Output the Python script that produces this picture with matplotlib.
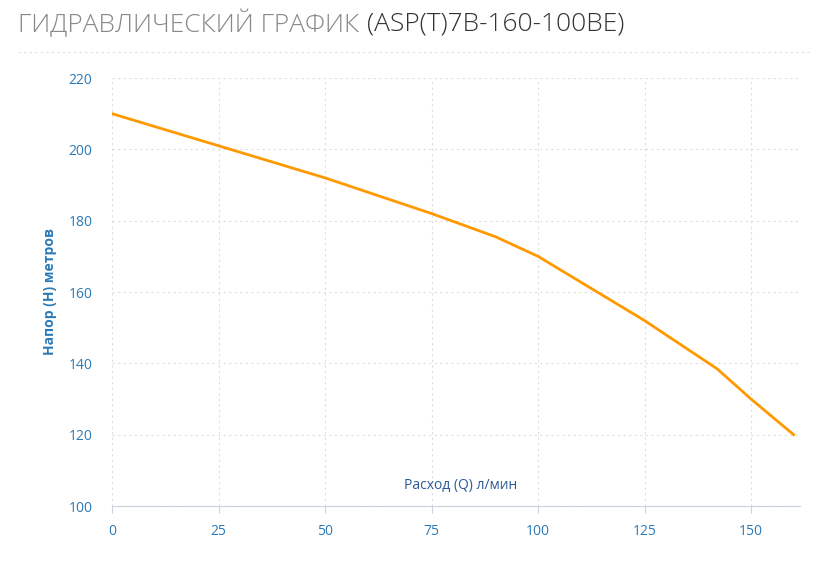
import matplotlib
matplotlib.use("Agg")
import matplotlib.pyplot as plt

# flow (l/min) vs head (m)
flow = [0, 25, 50, 75, 90, 100, 125, 142, 150, 160]
head = [210, 201, 192, 182, 175.5, 170, 152, 138.5, 130, 120]
xticks = [0, 25, 50, 75, 100, 125, 150]
yticks = [100, 120, 140, 160, 180, 200, 220]

plt.rcParams['font.family'] = ['Open Sans', 'DejaVu Sans']
tick_col = '#2a7ab8'

fig = plt.figure(figsize=(8.2, 5.8), dpi=100)
ax = fig.add_axes([112/820, 74/580, 688/820, 428/580])
ax.plot(flow, head, color='#ff9900', lw=2)
ax.set_xlim(0, 161.5)
ax.set_ylim(100, 220)
ax.set_xticks(xticks)
ax.set_yticks(yticks)
ax.grid(True, color='#dddddd', ls=(0, (2, 3)), lw=0.8)
for s in ['top', 'right', 'left']:
    ax.spines[s].set_visible(False)
ax.spines['bottom'].set_color('#c8d4e3')
ax.tick_params(colors=tick_col, labelsize=10, length=0, pad=14)
ax.tick_params(axis='x', length=5, color='#c8d4e3', pad=8)
ax.text(0.506, 0.03, 'Расход (Q) л/мин', transform=ax.transAxes, ha='center',
        va='bottom', color='#2a5a9a', fontsize=10)
ax.set_ylabel('Напор (H) метров', color=tick_col, fontsize=10, fontweight='bold', labelpad=8)

t1 = fig.text(18/820, 1 - 24/580, 'ГИДРАВЛИЧЕСКИЙ ГРАФИК', fontsize=19, color='#888888',
              va='center', ha='left', fontweight='light')
fig.canvas.draw()
bb = t1.get_window_extent(fig.canvas.get_renderer())
fig.text((bb.x1 + 8) / 820, 1 - 24/580, '(ASP(T)7B-160-100BE)', fontsize=19, color='#333333',
         va='center', ha='left', fontweight='light')
fig.add_artist(plt.Line2D([18/820, 810/820], [1 - 52/580] * 2, color='#dddddd',
                          ls=(0, (2, 3)), lw=0.8))
fig.savefig('out.png', dpi=100)
